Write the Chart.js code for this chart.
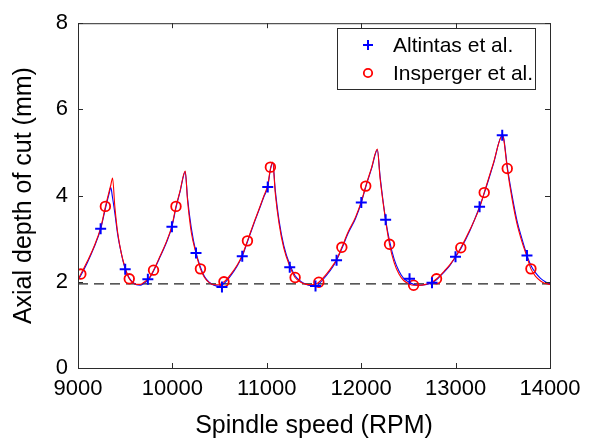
<!DOCTYPE html>
<html>
<head>
<meta charset="utf-8">
<script src="https://cdn.jsdelivr.net/npm/chart.js@4.4.1/dist/chart.umd.min.js"></script>
<style>
  html, body { margin: 0; padding: 0; background: #fff; }
  #wrap { width: 592px; height: 445px; }
</style>
</head>
<body>
<div id="wrap"><canvas id="chart"></canvas></div>
<script>
// Stability lobes - spindle speed vs axial depth of cut
const xTicks = [9000, 10000, 11000, 12000, 13000, 14000];
const yTicks = [0, 2, 4, 6, 8];
const criticalDepth = 1.95;

// lobe curves (shared speeds)
const curveSpeed = [9000, 9030, 9100, 9170, 9240, 9290, 9330, 9347, 9366, 9390, 9420, 9460, 9500, 9540, 9580, 9620, 9660, 9700, 9750, 9800,
  9870, 9940, 9995, 10038, 10080, 10136, 10160, 10200, 10250, 10297, 10340, 10390, 10440, 10490, 10546, 10620, 10690, 10740, 10795, 10860,
  10920, 10970, 11010, 11038, 11063, 11090, 11130, 11180, 11243, 11300, 11360, 11420, 11470, 11520, 11551, 11640, 11700, 11739, 11795, 11860,
  11940, 12001, 12048, 12110, 12171, 12200, 12259, 12300, 12350, 12400, 12450, 12500, 12555, 12620, 12680, 12750, 12800, 12880, 12940, 12999,
  13055, 13150, 13254, 13303, 13400, 13494, 13510, 13547, 13600, 13650, 13700, 13756, 13798, 13850, 13900, 13950, 14000];
const curveInsperger = [2.05, 2.18, 2.48, 2.82, 3.25, 3.74, 4.10, 4.24, 4.41, 3.75, 3.15, 2.65, 2.32, 2.08, 1.98, 1.94, 1.94, 1.99, 2.08, 2.27,
  2.60, 2.95, 3.30, 3.75, 4.10, 4.57, 3.90, 3.15, 2.66, 2.30, 2.10, 1.98, 1.93, 1.93, 2.00, 2.18, 2.40, 2.62, 2.95, 3.35,
  3.70, 4.00, 4.25, 4.62, 4.78, 4.05, 3.35, 2.78, 2.36, 2.10, 1.99, 1.94, 1.93, 1.95, 1.99, 2.20, 2.38, 2.52, 2.80, 3.15,
  3.50, 3.86, 4.22, 4.65, 5.08, 4.40, 3.42, 2.87, 2.44, 2.18, 2.03, 1.96, 1.92, 1.92, 1.94, 1.99, 2.07, 2.25, 2.40, 2.58,
  2.79, 3.20, 3.72, 4.07, 4.75, 5.38, 5.30, 4.63, 3.90, 3.35, 2.95, 2.58, 2.30, 2.12, 2.02, 1.96, 1.94];
const curveAltintas = [2.03, 2.15, 2.45, 2.80, 3.22, 3.70, 4.05, 4.19, 3.95, 3.60, 3.10, 2.65, 2.30, 2.10, 1.99, 1.93, 1.92, 1.97, 2.06, 2.25,
  2.58, 2.93, 3.28, 3.72, 4.08, 4.55, 3.95, 3.25, 2.68, 2.34, 2.12, 1.99, 1.92, 1.90, 1.96, 2.15, 2.38, 2.59, 2.93, 3.33,
  3.68, 3.98, 4.20, 4.60, 4.76, 4.12, 3.42, 2.84, 2.40, 2.14, 2.01, 1.94, 1.91, 1.90, 1.95, 2.17, 2.35, 2.50, 2.77, 3.12,
  3.47, 3.84, 4.20, 4.63, 5.06, 4.45, 3.44, 2.95, 2.52, 2.25, 2.08, 2.00, 1.94, 1.92, 1.93, 1.98, 2.05, 2.23, 2.38, 2.58,
  2.77, 3.18, 3.74, 4.05, 4.73, 5.40, 5.33, 4.68, 3.98, 3.42, 3.02, 2.62, 2.38, 2.20, 2.08, 2.00, 1.95];

// discrete predictions
const altintasSpeed = [9240, 9500, 9740, 9995, 10250, 10525, 10740, 11010, 11243, 11516, 11739, 12001, 12259, 12512, 12750, 12999, 13254, 13494, 13756];
const altintasDepth = [3.23, 2.29, 2.06, 3.28, 2.67, 1.88, 2.59, 4.20, 2.34, 1.90, 2.50, 3.84, 3.44, 2.07, 1.98, 2.58, 3.74, 5.40, 2.61];
const inspergerSpeed = [9030, 9290, 9543, 9800, 10038, 10297, 10546, 10795, 11038, 11300, 11551, 11795, 12048, 12300, 12555, 12798, 13055, 13303, 13547, 13798];
const inspergerDepth = [2.18, 3.75, 2.07, 2.27, 3.75, 2.30, 2.00, 2.95, 4.66, 2.10, 1.99, 2.80, 4.22, 2.87, 1.92, 2.07, 2.79, 4.07, 4.63, 2.30];

const FONT = "'Liberation Sans', Arial, sans-serif";
const BLUE = '#0000ff';
const RED = '#ff0000';
const FRAME = '#2b2b2b';

function pts(xs, ys) {
    return xs.map((x, i) => ({ x: x, y: ys[i] }));
}

// MATLAB-style box with inward ticks
const boxPlugin = {
    id: 'box',
    afterDatasetsDraw(chart) {
        const { ctx, chartArea: a, scales } = chart;
        ctx.save();
        ctx.strokeStyle = FRAME;
        ctx.lineWidth = 1;
        ctx.strokeRect(a.left + 0.5, a.top + 0.5, a.right - a.left, a.bottom - a.top);
        const len = 5;
        ctx.beginPath();
        scales.x.ticks.forEach(t => {
            const px = Math.round(scales.x.getPixelForValue(t.value)) + 0.5;
            ctx.moveTo(px, a.bottom); ctx.lineTo(px, a.bottom - len);
            ctx.moveTo(px, a.top); ctx.lineTo(px, a.top + len);
        });
        scales.y.ticks.forEach(t => {
            const py = Math.round(scales.y.getPixelForValue(t.value)) + 0.5;
            ctx.moveTo(a.left, py); ctx.lineTo(a.left + len, py);
            ctx.moveTo(a.right, py); ctx.lineTo(a.right - len, py);
        });
        ctx.stroke();
        ctx.restore();
    },
    afterDraw(chart) {
        // legend box in the upper right
        const ctx = chart.ctx;
        const bx = 337, by = 28, bw = 198, bh = 61;
        ctx.save();
        ctx.fillStyle = '#fff';
        ctx.fillRect(bx, by, bw, bh);
        ctx.strokeStyle = FRAME;
        ctx.lineWidth = 1;
        ctx.strokeRect(bx + 0.5, by + 0.5, bw, bh);
        const mx = 368, r1 = 45, r2 = 73;
        ctx.strokeStyle = BLUE;
        ctx.lineWidth = 2;
        ctx.beginPath();
        ctx.moveTo(mx - 5, r1); ctx.lineTo(mx + 5, r1);
        ctx.moveTo(mx, r1 - 5); ctx.lineTo(mx, r1 + 5);
        ctx.stroke();
        ctx.strokeStyle = RED;
        ctx.lineWidth = 1.8;
        ctx.beginPath();
        ctx.arc(mx, r2, 4.2, 0, Math.PI * 2);
        ctx.stroke();
        ctx.fillStyle = '#000';
        ctx.font = '21px ' + FONT;
        ctx.textBaseline = 'middle';
        ctx.fillText('Altintas et al.', 393, r1 + 1);
        ctx.fillText('Insperger et al.', 393, r2 + 1);
        ctx.restore();
    }
};

const chart = new Chart(document.getElementById('chart'), {
    type: 'scatter',
    data: {
        datasets: [
            {
                label: 'Altintas et al.',
                data: pts(altintasSpeed, altintasDepth),
                pointStyle: 'cross', pointRadius: 5.5, borderWidth: 2,
                borderColor: BLUE, backgroundColor: BLUE, showLine: false, order: 0
            },
            {
                label: 'Insperger et al.',
                data: pts(inspergerSpeed, inspergerDepth),
                pointStyle: 'circle', pointRadius: 4.8, borderWidth: 1.8,
                borderColor: RED, backgroundColor: 'rgba(0,0,0,0)', showLine: false, order: 1
            },
            {
                data: pts(curveSpeed, curveInsperger),
                showLine: true, pointRadius: 0, borderWidth: 1.1, borderColor: RED,
                cubicInterpolationMode: 'monotone', order: 2
            },
            {
                data: pts(curveSpeed, curveAltintas),
                showLine: true, pointRadius: 0, borderWidth: 1.1, borderColor: BLUE,
                cubicInterpolationMode: 'monotone', order: 3
            },
            {
                data: pts([xTicks[0], xTicks[xTicks.length - 1]], [criticalDepth, criticalDepth]),
                showLine: true, pointRadius: 0, borderWidth: 1.2, borderColor: '#222',
                borderDash: [10, 6], order: 4
            }
        ]
    },
    options: {
        responsive: true,
        maintainAspectRatio: false,
        animation: false,
        layout: { padding: { top: 14, right: 42, left: 0, bottom: 0 } },
        plugins: { legend: { display: false }, tooltip: { enabled: false } },
        scales: {
            x: {
                type: 'linear', min: 9000, max: 14000,
                afterFit: s => { s.height = 77; },
                afterBuildTicks: s => { s.ticks = xTicks.map(v => ({ value: v })); },
                grid: { display: false, drawTicks: false },
                border: { display: false },
                ticks: { color: '#000', font: { family: FONT, size: 22 }, padding: 8, maxRotation: 0,
                    callback: v => String(v) },
                title: { display: true, text: 'Spindle speed (RPM)', color: '#000',
                    font: { family: FONT, size: 25 }, padding: { top: 0, bottom: 4 } }
            },
            y: {
                type: 'linear', min: 0, max: 8,
                afterFit: s => { s.width = 78; },
                afterBuildTicks: s => { s.ticks = yTicks.map(v => ({ value: v })); },
                grid: { display: false, drawTicks: false },
                border: { display: false },
                ticks: { color: '#000', font: { family: FONT, size: 22 }, padding: 10,
                    callback: v => String(v) },
                title: { display: true, text: 'Axial depth of cut (mm)', color: '#000',
                    font: { family: FONT, size: 25 }, padding: { top: 9, bottom: 0 } }
            }
        }
    },
    plugins: [boxPlugin]
});
</script>
</body>
</html>
